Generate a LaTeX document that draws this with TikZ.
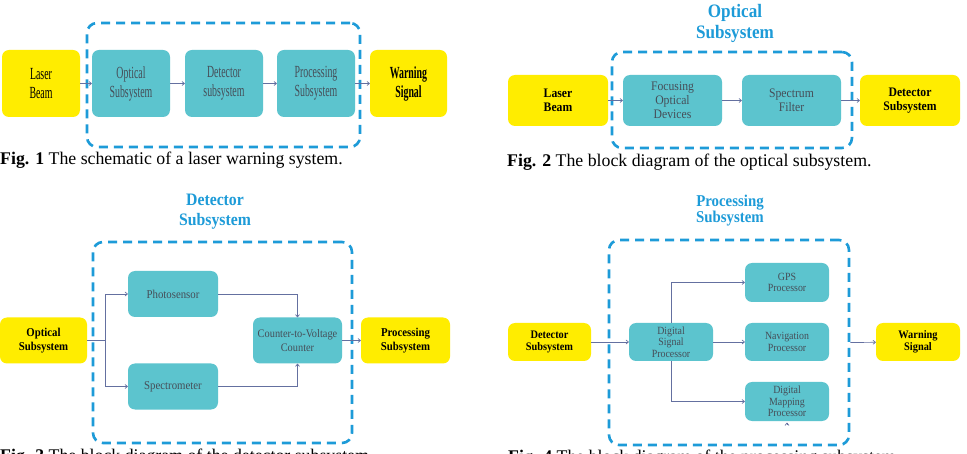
\documentclass[tikz,border=0pt]{standalone}
\usepackage{fontspec}
\setmainfont{Liberation Serif}
\newfontfamily\slimfont[FakeStretch=0.58]{Liberation Serif}
\newfontfamily\blockfont[FakeStretch=0.9]{Liberation Serif}
\usetikzlibrary{arrows.meta}
\definecolor{laseryellow}{RGB}{255,237,0}
\definecolor{blockteal}{RGB}{92,196,206}
\definecolor{frameblue}{RGB}{29,155,216}
\definecolor{wiregray}{RGB}{100,112,160}
\definecolor{textgray}{RGB}{70,78,88}
\newcommand{\fs}[2]{\fontsize{#1}{#2}\selectfont}

\begin{document}
\begin{tikzpicture}[x=1pt, y=-1pt,
    size/.style 2 args={minimum width=#1, minimum height=#2},
    io/.style={fill=laseryellow, rounded corners=7pt, align=center, inner sep=0pt},
    block/.style={fill=blockteal, rounded corners=7pt, align=center, text=textgray, inner sep=0pt},
    frame/.style={draw=frameblue, line width=2.6pt, dash pattern=on 9pt off 6pt, rounded corners=10pt, inner sep=0pt},
    title/.style={text=frameblue, align=center, inner sep=0pt},
    caption/.style={anchor=base west, inner sep=0pt, font=\fs{17.8}{20}},
    arr/.style={draw=wiregray, line width=0.7pt, -{To[length=3pt,width=4.5pt]}}]
    \clip (0,0) rectangle (967,454);
    \fill[white] (0,0) rectangle (967,454);

    % Fig. 1: the whole system
    \node[frame, size={273}{124}] (frame1) at (223.5,85) {};
    \node[io, size={78}{67}, font=\slimfont\fs{17}{19}] (laser1) at (41,83.5) {Laser\\Beam};
    \node[block, size={78}{67}, font=\slimfont\fs{17}{19}] (opt1) at (131,83.5) {Optical\\Subsystem};
    \node[block, size={78}{67}, font=\slimfont\fs{17}{19}] (det1) at (224,83.5) {Detector\\subsystem};
    \node[block, size={78}{67}, font=\slimfont\fs{17}{19}] (proc1) at (316,83.5) {Processing\\Subsystem};
    \node[io, size={77}{67}, font=\slimfont\bfseries\fs{17}{19}] (warn1) at (408.5,83.5) {Warning\\Signal};
    \draw[arr] (laser1) -- (opt1);
    \draw[arr] (opt1) -- (det1);
    \draw[arr] (det1) -- (proc1);
    \draw[arr] (proc1) -- (warn1);
    \node[caption] (cap1) at (0,165) {\textbf{Fig. 1} The schematic of a laser warning system.};

    % Fig. 2: optical subsystem
    \node[title, font=\blockfont\bfseries\fs{19}{21}] (title2) at (735,23) {Optical\\Subsystem};
    \node[frame, size={240}{96}] (frame2) at (732,100) {};
    \node[io, size={100}{51}, font=\blockfont\bfseries\fs{13}{14}] (laser2) at (558,100.5) {Laser\\Beam};
    \node[block, size={99}{51}, font=\blockfont\fs{13}{14}] (focus2) at (672.5,100.5) {Focusing\\Optical\\Devices};
    \node[block, size={99}{51}, font=\blockfont\fs{13}{14}] (filter2) at (791.5,100.5) {Spectrum\\Filter};
    \node[io, size={100}{51}, font=\blockfont\bfseries\fs{13}{14}] (det2) at (910,100.5) {Detector\\Subsystem};
    \draw[arr] (laser2) -- (focus2);
    \draw[arr] (focus2) -- (filter2);
    \draw[arr] (filter2) -- (det2);
    \node[caption] (cap2) at (507,167) {\textbf{Fig. 2} The block diagram of the optical subsystem.};

    % Fig. 3: detector subsystem
    \node[title, font=\blockfont\bfseries\fs{17.5}{20}] (title3) at (215,212) {Detector\\Subsystem};
    \node[frame, size={259}{201}] (frame3) at (222.5,342.5) {};
    \node[io, size={87}{46}, font=\blockfont\bfseries\fs{12}{13.5}] (opt3) at (43.5,340.5) {Optical\\Subsystem};
    \node[block, size={90}{46}, font=\blockfont\fs{12}{13.5}] (photo3) at (173,294) {Photosensor};
    \node[block, size={90}{46}, font=\blockfont\fs{12}{13.5}] (spectro3) at (173,386.5) {Spectrometer};
    \node[block, size={89}{46}, font=\blockfont\fs{11.5}{13.5}] (cvc3) at (297.5,340.5) {Counter-to-Voltage\\Counter};
    \node[io, size={89}{46}, font=\blockfont\bfseries\fs{12}{13.5}] (proc3) at (405.5,340.5) {Processing\\Subsystem};
    \coordinate (split3) at (105,340.5);
    \draw[draw=wiregray, line width=0.7pt] (opt3) -- (split3);
    \draw[arr] (split3) |- (photo3);
    \draw[arr] (split3) |- (spectro3);
    \draw[arr] (photo3) -| (cvc3);
    \draw[arr] (spectro3) -| (cvc3);
    \draw[arr] (cvc3) -- (proc3);
    \node[caption] (cap3) at (0,461) {\textbf{Fig. 3} The block diagram of the detector subsystem.};

    % Fig. 4: processing subsystem
    \node[title, font=\blockfont\bfseries\fs{16.5}{16}] (title4) at (730,211) {Processing\\Subsystem};
    \node[frame, size={240}{205}] (frame4) at (729,342.5) {};
    \node[io, size={83}{38}, font=\blockfont\bfseries\fs{11.5}{11.5}] (det4) at (549.5,342) {Detector\\Subsystem};
    \node[block, size={84}{38}, font=\blockfont\fs{11}{11.5}] (dsp4) at (671,342) {Digital\\Signal\\Processor};
    \node[block, size={84}{39}, font=\blockfont\fs{11}{11.5}] (gps4) at (787,282.5) {GPS\\Processor};
    \node[block, size={84}{38}, font=\blockfont\fs{11}{11.5}] (nav4) at (787,342) {Navigation\\Processor};
    \node[block, size={84}{39}, font=\blockfont\fs{11}{11.5}] (map4) at (787,401.5) {Digital\\Mapping\\Processor};
    \node[io, size={84}{38}, font=\blockfont\bfseries\fs{11.5}{11.5}] (warn4) at (918,342) {Warning\\Signal};
    \draw[arr] (det4) -- (dsp4);
    \draw[arr] (dsp4.north) |- (gps4);
    \draw[arr] (dsp4) -- (nav4);
    \draw[arr] (dsp4.south) |- (map4);
    \draw[arr] ([yshift=-4pt]map4.south) -- ([yshift=-1.5pt]map4.south);
    \draw[arr] (frame4.east) -- (warn4);
    \node[caption] (cap4) at (508,462) {\textbf{Fig. 4} The block diagram of the processing subsystem.};
\end{tikzpicture}
\end{document}
